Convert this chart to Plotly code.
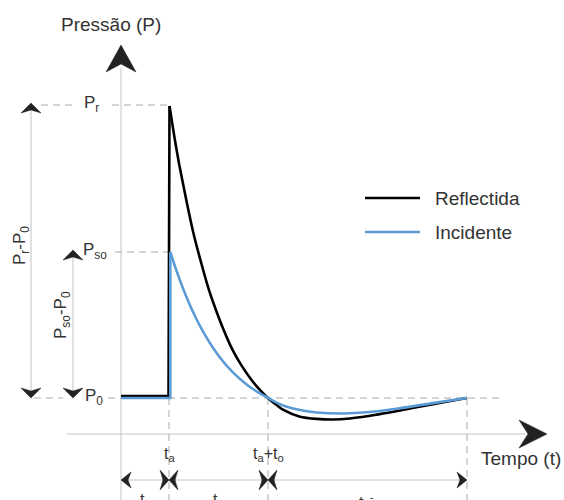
import plotly.graph_objects as go

# ---------------- data ----------------
# time in units of t_a (t_a = 1), pressure in units of (P_so - P_0)
reflected_t = [0.0, 0.98, 1.0, 1.1, 1.2, 1.35, 1.5, 1.65, 1.8, 1.95, 2.1, 2.3, 2.5,
               2.7, 2.85, 3.03, 3.18, 3.34, 3.69, 4.04, 4.37, 4.72, 5.07, 5.75, 6.43, 7.13]
reflected_p = [0.014, 0.014, 2.0, 1.79, 1.60, 1.35, 1.12, 0.93, 0.755, 0.61, 0.48, 0.33,
               0.215, 0.12, 0.06, 0.0, -0.041, -0.08, -0.128, -0.143, -0.147, -0.140,
               -0.125, -0.085, -0.042, 0.0]
incident_t = [0.0, 1.016, 1.016, 1.117, 1.266, 1.466, 1.716, 2.016, 2.318, 2.617, 2.866,
              3.04, 3.2, 3.4, 3.69, 4.04, 4.58, 5.07, 5.75, 6.43, 7.13]
incident_p = [0.0, 0.0, 1.0, 0.898, 0.761, 0.603, 0.441, 0.288, 0.172, 0.086, 0.031,
              0.0, -0.03, -0.058, -0.082, -0.099, -0.106, -0.098, -0.07, -0.035, 0.0]
series_names = ["Reflectida", "Incidente"]
series_colors = ["#000000", "#5B9BD5"]

# ---------------- layout helpers (pixel -> data) ----------------
W_FIG, H_FIG = 564, 500
X0, XS = 121.0, 48.5
Y0, YS = 398.0, 146.0


def X(px):
    return (px - X0) / XS


def Y(py):
    return (Y0 - py) / YS


FONT = "Liberation Sans, Arial, sans-serif"
TXT = "#333333"
GRID = "#c4c4c4"
DASH = "#aaaaaa"
ARW = "#222222"

fig = go.Figure()

# curves: step part linear, decay part spline
fig.add_trace(go.Scatter(x=reflected_t[:3], y=reflected_p[:3], mode="lines",
                         line=dict(color=series_colors[0], width=2.6), showlegend=False,
                         hoverinfo="skip"))
fig.add_trace(go.Scatter(x=reflected_t[2:], y=reflected_p[2:], mode="lines",
                         line=dict(color=series_colors[0], width=2.6, shape="spline",
                                   smoothing=0.7),
                         name=series_names[0], showlegend=False))
fig.add_trace(go.Scatter(x=incident_t[:3], y=incident_p[:3], mode="lines",
                         line=dict(color=series_colors[1], width=2.6), showlegend=False,
                         hoverinfo="skip"))
fig.add_trace(go.Scatter(x=incident_t[2:], y=incident_p[2:], mode="lines",
                         line=dict(color=series_colors[1], width=2.6, shape="spline",
                                   smoothing=0.7),
                         name=series_names[1], showlegend=False))

shapes = []


def line(x1, y1, x2, y2, color=GRID, width=1, dash=None):
    d = dict(type="line", xref="x", yref="y", x0=X(x1), y0=Y(y1), x1=X(x2), y1=Y(y2),
             line=dict(color=color, width=width), layer="below")
    if dash:
        d["line"]["dash"] = dash
    shapes.append(d)


def arrow(tx, ty, ux, uy, L, Wd, N, color=ARW):
    bx, by = tx - L * ux, ty - L * uy
    px_, py_ = -uy, ux
    c1 = (bx + Wd * px_, by + Wd * py_)
    c2 = (bx - Wd * px_, by - Wd * py_)
    nx, ny = tx - (L - N) * ux, ty - (L - N) * uy
    pts = [(tx, ty), c1, (nx, ny), c2]
    path = "M " + " L ".join(f"{X(a):.5f},{Y(b):.5f}" for a, b in pts) + " Z"
    shapes.append(dict(type="path", xref="x", yref="y", path=path,
                       fillcolor=color, line=dict(color=color, width=0.5)))


DSH = "7px,5px"
# axes
line(121, 68, 121, 505)
line(67, 434, 525, 434)
arrow(121, 45, 0, -1, 27, 15, 8)
arrow(547, 434, 1, 0, 28, 14, 9)

# dashed guides
line(41, 105, 76, 105, color=DASH, dash=DSH)
line(112, 105, 168, 105, color=DASH, dash=DSH)
line(115, 252, 170, 252, color=DASH, dash=DSH)
line(34, 398, 63, 398, color=DASH, dash=DSH)
line(108, 398, 503, 398, color=DASH, dash=DSH)
for xv in (169, 268, 467):
    line(xv, 398, xv, 505, color=DASH, dash=DSH)

# dimension lines (pressure)
line(31, 108, 31, 393)
arrow(31, 103, 0, -1, 10, 10, 3)
arrow(31, 398, 0, 1, 10, 10, 3)
line(73, 255, 73, 393)
arrow(73, 250, 0, -1, 10, 10, 3)
arrow(73, 398, 0, 1, 10, 10, 3)

# dimension line (time)
line(124, 480, 464, 480)
arrow(121, 480, -1, 0, 10, 8, 3)
arrow(467, 480, 1, 0, 10, 8, 3)
for xv in (169, 268):
    arrow(xv, 480, 1, 0, 9, 10, 3)
    arrow(xv, 480, -1, 0, 9, 10, 3)

# legend samples
shapes.append(dict(type="line", xref="x", yref="y", x0=X(365), y0=Y(198), x1=X(420),
                   y1=Y(198), line=dict(color=series_colors[0], width=2.6)))
shapes.append(dict(type="line", xref="x", yref="y", x0=X(365), y0=Y(232), x1=X(420),
                   y1=Y(232), line=dict(color=series_colors[1], width=2.6)))
fig.add_trace(go.Scatter(x=[X(v) for v in (377, 390, 403, 416)], y=[Y(232)] * 4,
                         mode="markers", marker=dict(size=2.5, color="#9a9a9a"),
                         showlegend=False, hoverinfo="skip"))

annotations = []


def text(px, py, s, size=17, xanchor="center", angle=0, yanchor="middle"):
    annotations.append(dict(x=X(px), y=Y(py), xref="x", yref="y", text=s, showarrow=False,
                            xanchor=xanchor, yanchor=yanchor, textangle=angle,
                            font=dict(family=FONT, size=size, color=TXT)))


text(111, 24, "Pressão (P)", size=19)
text(91, 104, "P<sub>r</sub>", size=17)
text(81, 251, "P<sub>so</sub>", size=17, xanchor="left")
text(83, 397, "P<sub>0</sub>", size=17, xanchor="left")
text(21, 246, "P<sub>r</sub>-P<sub>0</sub>", size=17, angle=-90)
text(62, 315, "P<sub>so</sub>-P<sub>0</sub>", size=17, angle=-90)
text(169, 454, "t<sub>a</sub>", size=16)
text(268, 454, "t<sub>a</sub>+t<sub>o</sub>", size=16)
text(479, 458, "Tempo (t)", size=19, xanchor="left")
text(145, 489, "t<sub>a</sub>", size=16, yanchor="top")
text(218, 489, "t<sub>o</sub>", size=16, yanchor="top")
text(366, 489, "t<sub>o</sub><sup>-</sup>", size=16, yanchor="top")
text(433, 198, series_names[0], size=19, xanchor="left")
text(433, 232, series_names[1], size=19, xanchor="left")

fig.update_layout(
    width=W_FIG, height=H_FIG, autosize=False,
    margin=dict(l=0, r=0, t=0, b=0, pad=0),
    paper_bgcolor="white", plot_bgcolor="white",
    xaxis=dict(range=[X(0), X(W_FIG)], visible=False, fixedrange=True),
    yaxis=dict(range=[Y(H_FIG), Y(0)], visible=False, fixedrange=True),
    shapes=shapes, annotations=annotations, showlegend=False,
)

fig.write_html("out.html", config={"displayModeBar": False},
               post_script="document.body.style.margin='0';")
